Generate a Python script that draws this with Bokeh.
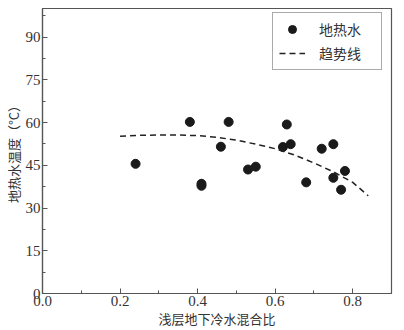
from bokeh.plotting import figure
from bokeh.models import Range1d, FixedTicker, NumeralTickFormatter, Legend, LegendItem, ColumnDataSource
from bokeh.embed import file_html
from bokeh.resources import INLINE

# data
mix_ratio = [0.24, 0.38, 0.41, 0.41, 0.46, 0.48, 0.53, 0.55, 0.62, 0.63, 0.64,
             0.68, 0.72, 0.75, 0.75, 0.77, 0.78]
temperature = [45.5, 60.2, 38.5, 37.8, 51.5, 60.2, 43.5, 44.5, 51.4, 59.3, 52.4,
               39.0, 50.8, 52.4, 40.6, 36.4, 43.0]
trend_x = [0.20, 0.25, 0.30, 0.35, 0.40, 0.45, 0.50, 0.55, 0.60, 0.65, 0.70, 0.75, 0.80, 0.84]
trend_y = [55.2, 55.5, 55.6, 55.6, 55.4, 54.8, 53.8, 52.4, 50.8, 48.6, 45.8, 42.7, 39.0, 34.3]
x_ticks = [0.0, 0.2, 0.4, 0.6, 0.8]
y_ticks = [0, 15, 30, 45, 60, 75, 90]
series_names = ["地热水", "趋势线"]
x_label = "浅层地下冷水混合比"
y_label = "地热水温度（°C）"

TXT = "#333333"
AX = "#555555"

p = figure(frame_width=349, frame_height=285, output_backend="svg", toolbar_location=None,
           x_range=Range1d(0, 0.9), y_range=Range1d(0, 100),
           min_border_left=33, min_border_right=6, min_border_top=8, min_border_bottom=30)
p.grid.visible = False
p.outline_line_color = AX
p.outline_line_width = 1.2
p.background_fill_color = "white"

src = ColumnDataSource(dict(x=mix_ratio, y=temperature))
# smaller copy underneath, used only for the legend's marker size
leg_pts = p.scatter("x", "y", source=src, size=7, color="#1a1a1a")
r_pts = p.scatter("x", "y", source=src, size=9, color="#1a1a1a")
tsrc = ColumnDataSource(dict(x=trend_x, y=trend_y))
r_line = p.line("x", "y", source=tsrc, line_color="#222222", line_width=1.5, line_dash="6 4")

p.xaxis.ticker = FixedTicker(ticks=x_ticks, minor_ticks=[0.1, 0.3, 0.5, 0.7])
p.yaxis.ticker = FixedTicker(ticks=y_ticks, minor_ticks=[7.5, 22.5, 37.5, 52.5, 67.5, 82.5, 97.5])
p.xaxis.formatter = NumeralTickFormatter(format="0.0")

for ax in (p.xaxis[0], p.yaxis[0]):
    ax.axis_line_color = AX
    ax.axis_line_width = 1.2
    ax.major_tick_line_color = AX
    ax.minor_tick_line_color = AX
    ax.major_tick_in = 5
    ax.major_tick_out = 0
    ax.minor_tick_in = 3
    ax.minor_tick_out = 0
    ax.major_label_text_font = "Liberation Serif"
    ax.major_label_text_font_size = "15px"
    ax.major_label_text_color = TXT
    ax.axis_label_text_font = "Noto Sans CJK SC"
    ax.axis_label_text_font_size = "13px"
    ax.axis_label_text_font_style = "normal"
    ax.axis_label_text_color = TXT

p.xaxis.axis_label = x_label
p.yaxis.axis_label = y_label
p.xaxis.major_label_standoff = 2
p.xaxis.axis_label_standoff = 0
p.yaxis.major_label_standoff = 2
p.yaxis.axis_label_standoff = 0

legend = Legend(items=[LegendItem(label=series_names[0], renderers=[leg_pts]),
                       LegendItem(label=series_names[1], renderers=[r_line])],
                location=(230, 223))
legend.label_text_font = "Noto Sans CJK SC"
legend.label_text_font_size = "14px"
legend.label_text_color = TXT
legend.border_line_color = AX
legend.border_line_width = 1.2
legend.padding = 6
legend.spacing = 4
legend.glyph_width = 26
legend.glyph_height = 20
legend.label_height = 20
legend.label_standoff = 14
legend.label_width = 56
legend.margin = 0
p.add_layout(legend)

open("out.html", "w").write(file_html(p, INLINE))
